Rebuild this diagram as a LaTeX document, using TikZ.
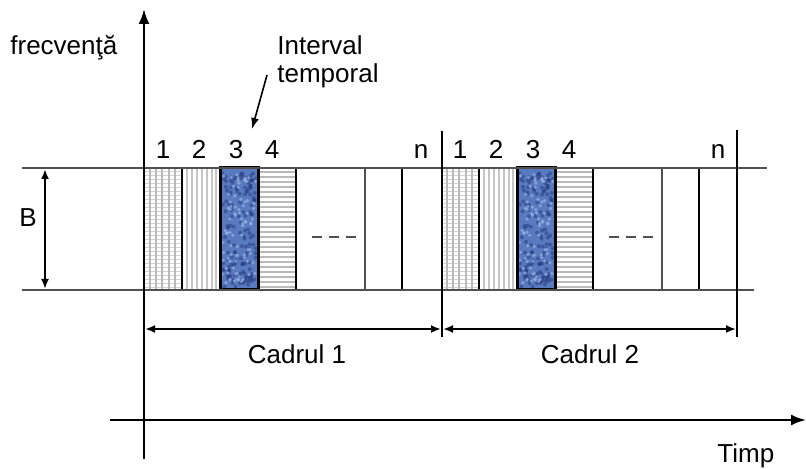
\documentclass[tikz,border=0pt]{standalone}
\usepackage{fontspec}
\setmainfont{Liberation Sans}
\usetikzlibrary{arrows.meta,positioning}

\definecolor{slotblue}{RGB}{90,122,192}
\definecolor{slotdark}{RGB}{40,62,130}
\definecolor{slotlight}{RGB}{150,178,230}
\definecolor{rulegray}{RGB}{80,80,80}

\begin{document}
\begin{tikzpicture}[x=0.5pt,y=-0.5pt,font=\fontsize{13}{14}\selectfont,
        axis/.style={line width=1.1pt,-{Latex[length=7.5pt,width=5.5pt]}},
        dim/.style={line width=1pt,{Latex[length=5pt,width=4pt]}-{Latex[length=5pt,width=4pt]}},
        ptr/.style={line width=0.8pt,-{Latex[length=5.5pt,width=4pt]}},
        band/.style={rulegray,line width=1.3pt},
        slotedge/.style={black,line width=1.1pt},
        thinedge/.style={rulegray,line width=0.9pt},
        frameedge/.style={black,line width=1.4pt},
        dashes/.style={rulegray,line width=1.3pt,dash pattern=on 5pt off 3.5pt},
        num/.style={anchor=base,inner sep=0pt}]

  \useasboundingbox (0,0) rectangle (806,469);

  % the two frames
  \foreach \f/\sh in {1/0,2/297}{
    \begin{scope}[xshift=\sh*0.5pt]
      % slot 1: grid
      \foreach \yy in {171,175,...,287}
        \draw[gray!35,line width=0.45pt] (145,\yy) -- (181,\yy);
      \foreach \xx in {150,156,162,169,175}
        \draw[gray!55,line width=0.55pt] (\xx,168) -- (\xx,290);
      % slot 2: vertical lines
      \foreach \xx in {187,192,197,202,207,212,216}
        \draw[gray!45,line width=0.55pt] (\xx,168) -- (\xx,290);
      % slot 3: blue
      \fill[slotblue] (220,168) rectangle (258,290);
      \pgfmathsetseed{17}
      \foreach \i in {1,...,140}{
        \pgfmathsetmacro{\rx}{222+34*rnd}
        \pgfmathsetmacro{\ry}{171+116*rnd}
        \fill[slotdark,opacity=0.55] (\rx,\ry) circle[radius=1pt];
      }
      \foreach \i in {1,...,80}{
        \pgfmathsetmacro{\rx}{222+34*rnd}
        \pgfmathsetmacro{\ry}{171+116*rnd}
        \fill[slotlight,opacity=0.7] (\rx,\ry) circle[radius=0.9pt];
      }
      % slot 4: horizontal lines
      \foreach \yy in {172,177,...,287}
        \draw[gray!55,line width=0.55pt] (259,\yy) -- (295,\yy);
      % slot borders
      \draw[slotedge] (182,168) -- (182,290);
      \draw[line width=1.5pt] (220,168) rectangle (258,290);
      \draw[slotedge] (296,168) -- (296,290);
      \draw[thinedge] (365,168) -- (365,290);
      \draw[slotedge] (402,168) -- (402,290);
      \draw[dashes] (312,237) -- (358,237);
      % slot numbers
      \node[num] (n\f-1) at (163,159) {1};
      \node[num] (n\f-2) at (199,159) {2};
      \node[num] (n\f-3) at (236,159) {3};
      \node[num] (n\f-4) at (272,159) {4};
      \node[num] (n\f-n) at (421,159) {n};
    \end{scope}
  }

  % band limits and frame limits
  \draw[band] (22,168) -- (767,168);
  \draw[band] (22,290) -- (754,290);
  \draw[frameedge] (442,131) -- (442,337);
  \draw[frameedge] (737,130) -- (737,337);

  % axes
  \coordinate (xs) at (110,420);
  \coordinate (xe) at (806,420);
  \coordinate (ys) at (144,459);
  \coordinate (ye) at (144,9);
  \draw[axis] (xs) -- (xe);
  \draw[axis] (ys) -- (ye);

  \node[anchor=base west,inner sep=0pt] (frq) at (10,55) {frecvenţă};
  \node[anchor=base west,inner sep=0pt] (tmp) at (717,462) {Timp};

  % bandwidth
  \coordinate (bt) at (45,169);
  \coordinate (bb) at (45,289);
  \draw[dim] (bt) -- (bb);
  \node[num] (bw) at (28,227) {B};

  % frame lengths
  \coordinate (c1a) at (145,329);
  \coordinate (c1b) at (441,329);
  \coordinate (c2a) at (443,329);
  \coordinate (c2b) at (736,329);
  \draw[dim] (c1a) -- (c1b);
  \draw[dim] (c2a) -- (c2b);
  \node[num] (cad1) at (297,363) {Cadrul 1};
  \node[num] (cad2) at (590,363) {Cadrul 2};

  % time slot pointer
  \node[anchor=base west,inner sep=0pt] (iv1) at (277,55) {Interval};
  \node[anchor=base west,inner sep=0pt] (iv2) at (277,83) {temporal};
  \coordinate (itail) at (267,75);
  \coordinate (ihead) at (252,129);
  \draw[ptr] (itail) -- (ihead);

\end{tikzpicture}
\end{document}
